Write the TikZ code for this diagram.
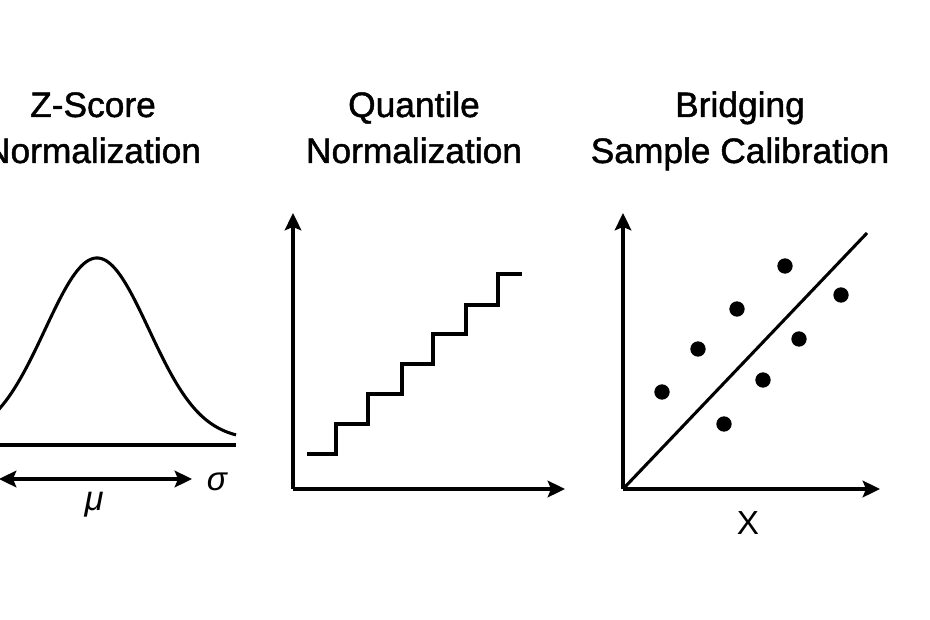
\documentclass[tikz,border=0pt]{standalone}
\usepackage{fontspec}
\setmainfont{Liberation Sans}
\newfontfamily\titlefont[FakeBold=1.3]{Liberation Sans}
\usetikzlibrary{arrows.meta}
\tikzset{
  ln/.style={line width=2.3pt, line cap=butt, line join=miter},
  ax/.style={ln, -{Stealth[length=13pt,width=12.5pt,inset=2.5pt]}},
  dax/.style={ln, {Stealth[length=13pt,width=12.5pt,inset=2.5pt]}-{Stealth[length=13pt,width=12.5pt,inset=2.5pt]}},
  title/.style={align=center, anchor=base, inner sep=0pt, font=\titlefont\fontsize{26.5}{34.5}\selectfont},
  lab/.style={inner sep=0pt, font=\fontsize{24}{28}\selectfont},
  dot/.style={circle, fill=black, inner sep=0pt, minimum size=11.5pt}
}
\begin{document}
\begin{tikzpicture}[x=0.75pt,y=-0.75pt]
\clip (0,0) rectangle (930,620);
\fill[white] (0,0) rectangle (930,620);
% titles
\node[title] (t1) at (93,163) {Z-Score\\Normalization};
\node[title] (t2) at (414,163) {Quantile\\Normalization};
\node[title] (t3) at (740,163) {Bridging\\Sample Calibration};
% panel 1
\coordinate (b1l) at (-5,445);
\coordinate (b1r) at (236,445);
\draw[ln] (b1l) -- (b1r);
\draw[ln, domain=-5:236, samples=120, smooth] plot (\x,{440-182*exp(-0.5*((\x-97)/52)^2)});
\coordinate (al) at (-1,479);
\coordinate (ar) at (192,479);
\draw[dax] (al) -- (ar);
\node[lab, font=\fontsize{25}{28}\selectfont\itshape] (sig) at (217,482) {σ};
\node[lab, font=\fontsize{26}{28}\selectfont\itshape] (mu) at (94,505) {μ};
% panel 2
\coordinate (o2) at (293,489);
\coordinate (y2) at (293,213);
\coordinate (x2) at (565,489);
\draw[ax] (o2) -- (y2);
\draw[ax] (o2) -- (x2);
\coordinate (s0) at (307,454);
\draw[ln] (s0) -- (336,454) -- (336,424) -- (368,424) -- (368,394) -- (402,394) -- (402,364)
  -- (433,364) -- (433,334) -- (466,334) -- (466,305) -- (498,305) -- (498,274) -- (522,274);
% panel 3
\coordinate (o3) at (623,489);
\coordinate (y3) at (623,213);
\coordinate (x3) at (880,489);
\coordinate (l3) at (867,233);
\draw[ax] (o3) -- (y3);
\draw[ax] (o3) -- (x3);
\draw[ln] (o3) -- (l3);
\node[dot] (d1) at (662,392) {};
\node[dot] (d2) at (698,349) {};
\node[dot] (d3) at (737,309) {};
\node[dot] (d4) at (785,266) {};
\node[dot] (d5) at (841,295) {};
\node[dot] (d6) at (799,339) {};
\node[dot] (d7) at (763,380) {};
\node[dot] (d8) at (724,424) {};
\node[lab, font=\fontsize{25}{30}\selectfont] (xl) at (748,523) {X};
\end{tikzpicture}
\end{document}
